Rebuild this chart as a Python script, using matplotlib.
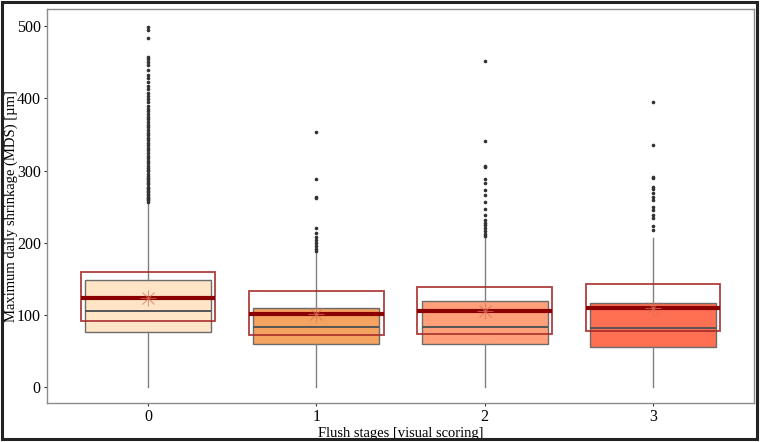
import numpy as np
import matplotlib
matplotlib.use("Agg")
import matplotlib.pyplot as plt
from matplotlib.patches import Rectangle

plt.rcParams['font.family'] = ['Liberation Serif', 'DejaVu Serif']

# Flush stages and box statistics
stages = ["0", "1", "2", "3"]
q1 = [76, 60, 60, 56]
median = [105, 84, 84, 82]
q3 = [148, 110, 119, 117]
whisker_low = [0, 0, 0, 0]
whisker_high = [257, 188, 208, 207]
fill_colors = ["#FFE4C6", "#F4A460", "#FFA07A", "#FF6F52"]

# mean and red crossbar limits
means = [124, 101, 105, 109]
bar_low = [92, 72, 74, 78]
bar_high = [160, 133, 139, 143]

# outliers
fliers0 = [257, 259, 261, 262, 264, 266, 268, 270, 272, 274, 276, 278, 281, 283,
           285, 288, 290, 293, 296, 299, 301, 304, 307, 311, 314, 318, 321, 325,
           328, 331, 335, 338, 342, 345, 349, 352, 356, 360, 363, 367, 371, 374,
           378, 382, 386, 390, 395, 399, 403, 408, 413, 418, 423, 428, 433, 440,
           446, 450, 455, 458, 484, 495, 499]
fliers1 = [188, 192, 196, 200, 204, 208, 214, 221, 262, 264, 288, 354]
fliers2 = [209, 212, 216, 220, 224, 228, 232, 239, 247, 256, 266, 273, 283, 288,
           305, 307, 341, 452]
fliers3 = [218, 223, 235, 239, 246, 250, 260, 264, 269, 274, 278, 290, 291, 336, 395]
fliers = [fliers0, fliers1, fliers2, fliers3]

fig = plt.figure(figsize=(7.62, 4.42), dpi=100)
ax = fig.add_axes([0.0617, 0.0882, 0.9278, 0.8914])

pos = np.arange(len(stages))
stats = []
for i in range(len(stages)):
    stats.append({"med": median[i], "q1": q1[i], "q3": q3[i],
                  "whislo": whisker_low[i], "whishi": whisker_high[i],
                  "fliers": fliers[i]})

bp = ax.bxp(stats, positions=pos, widths=0.75, patch_artist=True,
            showcaps=False,
            boxprops=dict(edgecolor="#6b6b6b", linewidth=1.0),
            medianprops=dict(color="#555555", linewidth=1.4),
            whiskerprops=dict(color="#808080", linewidth=1.0),
            flierprops=dict(marker="o", markersize=1.6, markerfacecolor="#333333",
                            markeredgecolor="#333333", linestyle="none"))
for patch, c in zip(bp["boxes"], fill_colors):
    patch.set_facecolor(c)

# red crossbars: box from bar_low to bar_high with thick mean line
for i in range(len(stages)):
    ax.add_patch(Rectangle((pos[i] - 0.4, bar_low[i]), 0.8, bar_high[i] - bar_low[i],
                           fill=False, edgecolor="#A52A2A", linewidth=1.3, alpha=0.9,
                           zorder=4))
ax.hlines(means, pos - 0.4, pos + 0.4, colors="#8B0000", linewidth=3, zorder=5)
ax.plot(pos, means, linestyle="none", marker="+", markersize=11, color="#D9705A",
        alpha=0.7, markeredgewidth=0.8, zorder=6)
ax.plot(pos, means, linestyle="none", marker="x", markersize=8, color="#D9705A",
        alpha=0.7, markeredgewidth=0.8, zorder=6)

ax.set_xlim(-0.6, 3.6)
ax.set_ylim(-22, 524)
ax.set_yticks([0, 100, 200, 300, 400, 500])
ax.set_xticks(pos)
ax.set_xticklabels(stages)
ax.tick_params(axis="both", labelsize=11.5, colors="#333333", length=2.5, width=0.8,
               pad=2)
ax.tick_params(axis="both", labelcolor="black")
for s in ax.spines.values():
    s.set_color("#8c8c8c")
    s.set_linewidth(1.0)

ax.set_ylabel("Maximum daily shrinkage (MDS) [µm]", fontsize=10.5)
ax.set_xlabel("Flush stages [visual scoring]", fontsize=10.5)
ax.yaxis.set_label_coords(-0.041, 0.5)
ax.xaxis.set_label_coords(0.5, -0.062)

# outer frame around the whole figure
fig.patches.append(Rectangle((0.003, 0.007), 0.991, 0.988, transform=fig.transFigure,
                             fill=False, edgecolor="#222222", linewidth=2.2,
                             zorder=10))

fig.savefig("out.png", dpi=100)
